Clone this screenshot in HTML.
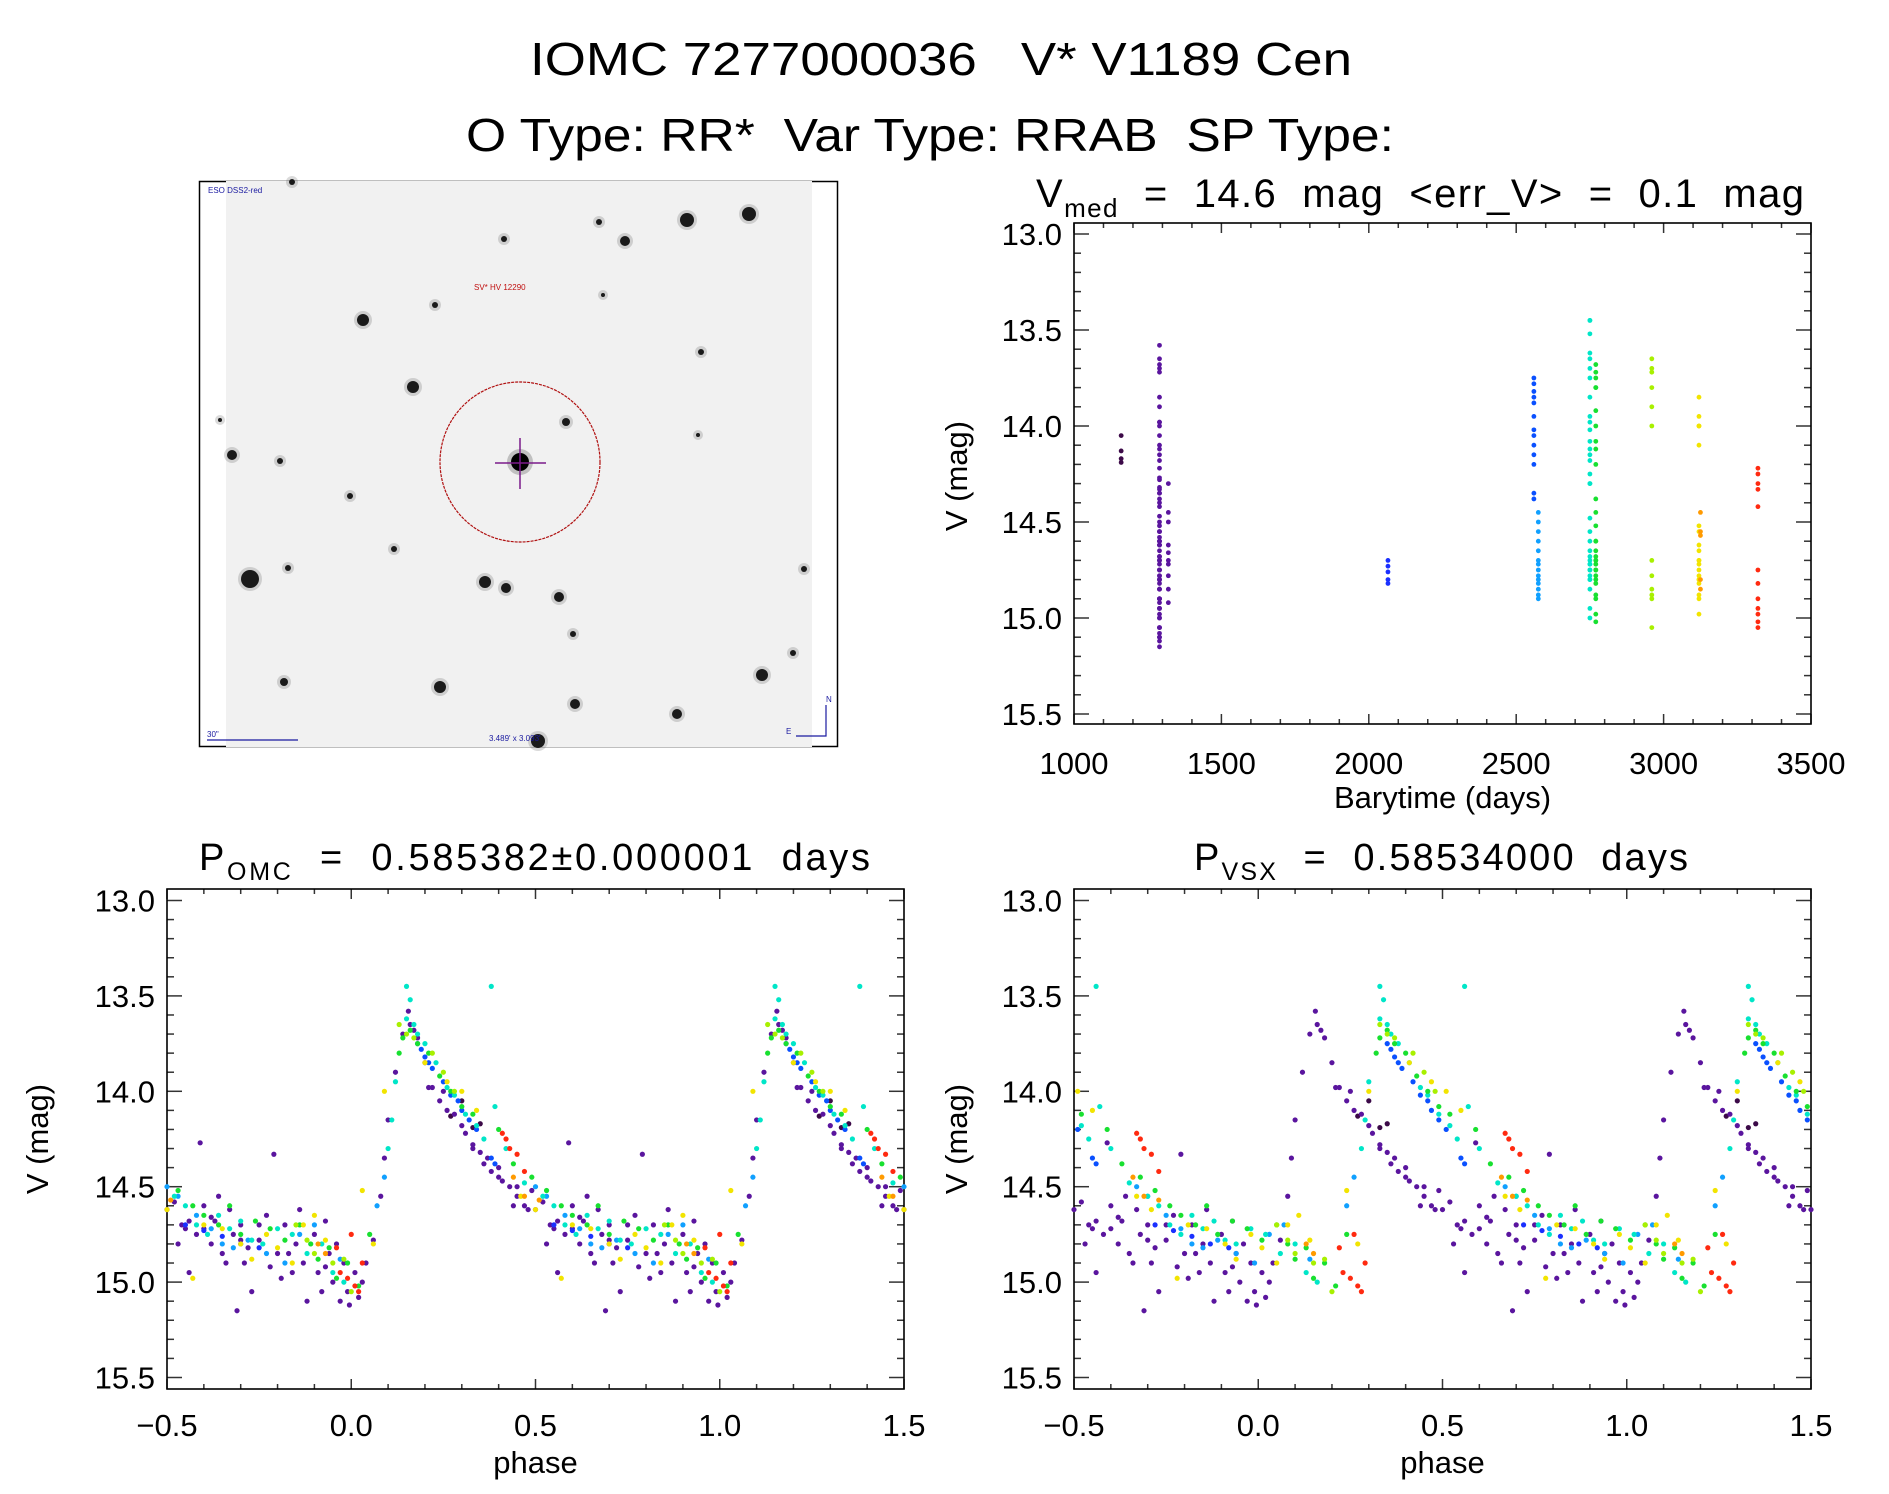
<!DOCTYPE html>
<html><head><meta charset="utf-8"><style>
html,body{margin:0;padding:0;background:#fff;}
svg{display:block;font-family:"Liberation Sans",sans-serif;}
text{white-space:pre;}
</style></head><body>
<svg id="fig" width="1889" height="1494" viewBox="0 0 1889 1494" xmlns="http://www.w3.org/2000/svg">
<rect x="0" y="0" width="1889" height="1494" fill="#fff"/>
<text x="530" y="75" font-size="46" textLength="822" lengthAdjust="spacingAndGlyphs" fill="#000" xml:space="preserve">IOMC 7277000036   V* V1189 Cen</text>
<text x="466" y="151" font-size="46" textLength="928" lengthAdjust="spacingAndGlyphs" fill="#000" xml:space="preserve">O Type: RR*  Var Type: RRAB  SP Type:</text>

<g>
<rect x="199.5" y="181.5" width="638" height="565" fill="none" stroke="#000" stroke-width="1.5"/>
<rect x="226" y="181" width="586" height="566" fill="#f1f1f1"/>
<g id="stars"></g>
<ellipse cx="520" cy="462" rx="80" ry="80" fill="none" stroke="#b01010" stroke-width="1.2" stroke-dasharray="3,1"/>
<line x1="495" y1="463" x2="546" y2="463" stroke="#7a1a8a" stroke-width="1.5"/>
<line x1="520" y1="438" x2="520" y2="489" stroke="#7a1a8a" stroke-width="1.5"/>
<text x="208" y="193" font-size="8" fill="#1a1aa0">ESO DSS2-red</text>
<text x="474" y="290" font-size="8" fill="#c01010">SV* HV 12290</text>
<text x="207" y="737" font-size="8" fill="#1a1aa0">30"</text>
<line x1="207" y1="740" x2="298" y2="740" stroke="#1a1aa0" stroke-width="1.2"/>
<text x="489" y="741" font-size="8" fill="#1a1aa0">3.489' x 3.093'</text>
<polyline points="796,736 826,736 826,705" fill="none" stroke="#1a1aa0" stroke-width="1.2"/>
<text x="826" y="702" font-size="8" fill="#1a1aa0">N</text>
<text x="786" y="734" font-size="8" fill="#1a1aa0">E</text>
</g>

<g id="plotTR"></g>
<g id="plotBL"></g>
<g id="plotBR"></g>
</svg>
<script>
// ---- data: per-group light-curve points [phase, mag] ----
const groupNames = ['early','purple','purple2','blue2','blue','lightblue','cyan','green','ygreen','yellow','orange','red'];
const groupColors = ['#3c0a48','#5a159e','#5a159e','#1a30ff','#0a50ff','#10a0ff','#00e6c8','#18e030','#a8f000','#f2e400','#ff9a00','#ff2a10'];
const groupTimes = [1160,1290,1320,2065,2560,2575,2750,2770,2960,3120,3125,3320];
const groupShifts = [0,0,0,0.17,0.17,0.17,0.18,0.19,0.2,0.21,0.22,0.26];
const ptsEarly = [[0.3,14.05],[0.27,14.13],[0.35,14.17],[0.33,14.19]];
const ptsPurple = [[0.08,14.55],[0.09,14.35],[0.1,14.15],[0.12,13.9],[0.14,13.7],[0.155,13.58],[0.16,13.65],[0.17,13.68],[0.18,13.72],[0.2,13.85],[0.22,13.98],[0.24,14.05],[0.26,14.1],[0.28,14.12],[0.3,14.18],[0.31,14.22],[0.33,14.28],[0.35,14.32],[0.36,14.38],[0.38,14.42],[0.4,14.4],[0.41,14.47],[0.43,14.5],[0.45,14.55],[0.47,14.6],[0.49,14.52],[0.5,14.62],[0.52,14.58],[0.54,14.7],[0.56,14.68],[0.58,14.75],[0.6,14.72],[0.62,14.8],[0.63,14.68],[0.65,14.85],[0.66,14.9],[0.68,14.75],[0.69,15.15],[0.7,14.7],[0.72,14.82],[0.73,15.05],[0.75,14.78],[0.77,14.65],[0.78,14.92],[0.8,14.85],[0.82,14.7],[0.84,14.95],[0.85,14.8],[0.87,14.9],[0.88,15.1],[0.9,14.75],[0.91,14.95],[0.92,15.05],[0.94,14.85],[0.95,15.0],[0.96,14.8],[0.97,15.1],[0.98,14.9],[0.99,15.05],[0.995,15.12],[0.01,14.95],[0.02,15.08],[0.03,15.0],[0.04,14.9],[0.06,14.78],[0.37,14.35],[0.56,14.95],[0.6,14.6],[0.64,14.55],[0.59,14.27],[0.79,14.33],[0.21,13.98],[0.25,14.0],[0.44,14.6],[0.53,14.8],[0.71,14.9],[0.81,14.98],[0.86,14.62],[0.93,14.68],[0.67,14.62]];
const ptsPurple2 = [[0.33,14.3],[0.4,14.45],[0.48,14.62],[0.55,14.72],[0.7,14.78],[0.83,14.85],[0.93,14.92],[0.45,14.5],[0.62,14.66],[0.75,14.7]];
const ptsBlue2 = [[0.55,14.7],[0.6,14.73],[0.65,14.76],[0.7,14.8],[0.75,14.82]];
const ptsBlue = [[0.18,13.75],[0.19,13.78],[0.2,13.82],[0.21,13.85],[0.22,13.88],[0.25,13.95],[0.27,14.02],[0.29,14.05],[0.3,14.1],[0.32,14.15],[0.34,14.2],[0.38,14.35],[0.39,14.38]];
const ptsLightblue = [[0.5,14.5],[0.53,14.55],[0.58,14.65],[0.62,14.72],[0.65,14.8],[0.68,14.82],[0.72,14.78],[0.77,14.85],[0.82,14.9],[0.86,14.75],[0.9,14.7],[0.97,14.88],[0.07,14.6],[0.09,14.45]];
const ptsCyan = [[0.15,13.45],[0.38,13.45],[0.16,13.52],[0.15,13.62],[0.17,13.65],[0.18,13.7],[0.2,13.75],[0.23,13.85],[0.26,13.98],[0.28,14.02],[0.31,14.12],[0.34,14.18],[0.36,14.25],[0.39,14.08],[0.42,14.3],[0.47,14.48],[0.52,14.55],[0.55,14.6],[0.58,14.7],[0.61,14.75],[0.64,14.65],[0.67,14.72],[0.7,14.68],[0.73,14.78],[0.76,14.8],[0.8,14.72],[0.84,14.75],[0.88,14.85],[0.92,14.8],[0.95,14.95],[0.98,15.0],[0.11,14.15],[0.1,14.3],[0.12,13.95]];
const ptsGreen = [[0.14,13.72],[0.16,13.68],[0.18,13.75],[0.21,13.8],[0.24,13.92],[0.27,14.0],[0.3,14.08],[0.33,14.12],[0.4,14.2],[0.44,14.38],[0.49,14.45],[0.53,14.52],[0.57,14.6],[0.6,14.65],[0.64,14.7],[0.67,14.6],[0.7,14.75],[0.74,14.68],[0.78,14.72],[0.82,14.78],[0.86,14.7],[0.89,14.8],[0.91,14.88],[0.94,14.82],[0.96,14.98],[0.99,14.9],[0.02,15.02],[0.05,14.75],[0.13,13.8]];
const ptsYgreen = [[0.13,13.65],[0.15,13.7],[0.17,13.72],[0.22,13.8],[0.25,13.9],[0.28,14.0],[0.85,14.7],[0.88,14.78],[0.9,14.85],[0.95,14.9],[0.0,15.05],[0.98,14.88]];
const ptsYellow = [[0.09,14.0],[0.2,13.85],[0.26,13.95],[0.3,14.0],[0.34,14.1],[0.6,14.7],[0.65,14.72],[0.7,14.8],[0.73,14.88],[0.77,14.75],[0.8,14.82],[0.84,14.9],[0.87,14.7],[0.9,14.65],[0.93,14.78],[0.03,14.52],[0.06,14.8],[0.57,14.98],[0.46,14.55],[0.5,14.62]];
const ptsOrange = [[0.44,14.45],[0.47,14.55],[0.51,14.57],[0.91,14.8],[0.93,14.85]];
const ptsRed = [[0.41,14.22],[0.42,14.25],[0.43,14.3],[0.45,14.33],[0.47,14.42],[0.0,14.75],[0.96,14.82],[0.97,14.95],[0.99,14.98],[0.01,15.02],[0.02,15.05],[0.03,14.9]];
const groupPoints = [ptsEarly,ptsPurple,ptsPurple2,ptsBlue2,ptsBlue,ptsLightblue,ptsCyan,ptsGreen,ptsYgreen,ptsYellow,ptsOrange,ptsRed];
const magTicks = [13.0,13.5,14.0,14.5,15.0,15.5];
const timeTicks = [1000,1500,2000,2500,3000,3500];
const phaseTicks = [-0.5,0.0,0.5,1.0,1.5];
// finder-chart stars [x, y, radius]
const starList = [[687,220,7],[749,214,7],[625,241,5],[599,222,3],[504,239,3],[363,320,6],[435,305,3],[701,352,3],[413,387,6],[566,422,4],[232,455,5],[280,461,3],[350,496,3],[250,579,9],[288,568,3],[394,549,3],[485,582,6],[506,588,5],[559,597,5],[573,634,3],[793,653,3],[762,675,6],[284,682,4],[440,687,6],[575,704,5],[677,714,5],[538,741,7],[804,569,3],[698,435,2],[603,295,2],[292,182,3],[220,420,2]];

const NS='http://www.w3.org/2000/svg';
function mk(tag, attrs, parent){const e=document.createElementNS(NS,tag);for(const k in attrs)e.setAttribute(k,attrs[k]);parent.appendChild(e);return e;}

// stars
const sg=document.getElementById('stars');
starList.forEach(s=>{
  mk('circle',{cx:s[0],cy:s[1],r:s[2]+3,fill:'#333',opacity:0.18},sg);
  const c=mk('circle',{cx:s[0],cy:s[1],r:s[2],fill:'#1a1a1a'},sg);
  
  
});
mk('circle',{cx:520,cy:462,r:13,fill:'#000',opacity:0.2},sg);
mk('circle',{cx:520,cy:462,r:9,fill:'#000'},sg);

function makePanel(g, L, R, T, B, y0px, pxPerMag, xmin, xmax, xTicks, xMinorStep, xFmt, xLabelY, yLabelX, xTitle, xTitleY, yTitleX, yTitleY){
  const sx=v=>L+(v-xmin)/(xmax-xmin)*(R-L);
  const sy=m=>y0px+(m-13.0)*pxPerMag;
  const tk=mk('g',{stroke:'#333','stroke-width':1.5},g);
  for(let m=13.0;m<=15.61;m+=0.1){
    const y=sy(m); if(y<T||y>B) continue;
    const major=Math.abs(m*2-Math.round(m*2))<1e-6;
    const len=major?15:7;
    mk('line',{x1:L,y1:y,x2:L+len,y2:y},tk);
    mk('line',{x1:R,y1:y,x2:R-len,y2:y},tk);
  }
  for(let v=xmin;v<=xmax+1e-9;v+=xMinorStep){
    const x=sx(v);
    const major=xTicks.some(t=>Math.abs(t-v)<1e-6);
    const len=major?10:5;
    mk('line',{x1:x,y1:B,x2:x,y2:B-len},tk);
    mk('line',{x1:x,y1:T,x2:x,y2:T+len},tk);
  }
  const fr=mk('rect',{x:L,y:T,width:R-L,height:B-T,fill:'none',stroke:'#000','stroke-width':1.6},g);
  
  
  magTicks.forEach(m=>{
    const t=mk('text',{x:yLabelX,y:sy(m)+11,'font-size':31,'text-anchor':'end',fill:'#000'},g);
    
    
    t.textContent=m.toFixed(1);
  });
  xTicks.forEach(v=>{
    const t=mk('text',{x:sx(v),y:xLabelY,'font-size':31,'text-anchor':'middle',fill:'#000'},g);
    
    
    t.textContent=xFmt(v);
  });
  const xt=mk('text',{x:(L+R)/2,y:xTitleY,'font-size':31,'text-anchor':'middle',fill:'#000'},g);
  
  
  xt.textContent=xTitle;
  const yt=mk('text',{x:0,y:0,'font-size':31,'text-anchor':'middle',fill:'#000',transform:`translate(${yTitleX},${yTitleY}) rotate(-90)`},g);
  
  
  yt.textContent='V (mag)';
  return {sx,sy};
}
function fmtPhase(v){return (v<0?'\u2212':'')+Math.abs(v).toFixed(1);}

// ---- Top-right: V vs barytime ----
const gTR=document.getElementById('plotTR');


const aTR=makePanel(gTR,1074,1811,223,724,234,192,1000,3500,timeTicks,100,v=>String(v),774,1062,'Barytime (days)',808,967,476);
const ttl=mk('text',{x:1036,y:207,'font-size':40,fill:'#000',textLength:768,lengthAdjust:'spacing'},gTR);


ttl.innerHTML='V<tspan dy="10" font-size="26">med</tspan><tspan dy="-10">  =  14.6  mag  &lt;err_V&gt;  =  0.1  mag</tspan>';
groupPoints.forEach((pts,gi)=>{
  pts.forEach(p=>{
    const c=mk('circle',{cx:aTR.sx(groupTimes[gi]),cy:aTR.sy(p[1]),r:2.4,fill:groupColors[gi]},gTR);
    
    
  });
});

// ---- Phase panels ----
function phasePanel(id, L, name, titleHTML, titleX, titleLen, shiftOn){
  const g=document.getElementById(id);
  
  
  const yTitleX = L<500 ? 48 : 967;
  const yLabX = L<500 ? 155 : 1062;
  const a=makePanel(g,L,L+737,889,1389,900.5,190.8,-0.5,1.5,phaseTicks,0.1,fmtPhase,1436,yLabX,'phase',1473,yTitleX,1139);
  const t=mk('text',{x:titleX,y:870,'font-size':38,fill:'#000',textLength:titleLen,lengthAdjust:'spacing'},g);
  
  
  t.innerHTML=titleHTML;
  groupPoints.forEach((pts,gi)=>{
    pts.forEach(p=>{
      const ph=p[0]+(shiftOn?groupShifts[gi]:0);
      [-2,-1,0,1].forEach(k=>{
        const x=ph+k;
        if(x<-0.5||x>1.5) return;
        const c=mk('circle',{cx:a.sx(x),cy:a.sy(p[1]),r:2.6,fill:groupColors[gi]},g);
        
        
      });
    });
  });
}
phasePanel('plotBL',167,'omc-phase-panel','P<tspan dy="10" font-size="25">OMC</tspan><tspan dy="-10">  =  0.585382±0.000001  days</tspan>',199,671,false);
phasePanel('plotBR',1074,'vsx-phase-panel','P<tspan dy="10" font-size="25">VSX</tspan><tspan dy="-10">  =  0.58534000  days</tspan>',1194,494,true);
</script>
</body></html>
